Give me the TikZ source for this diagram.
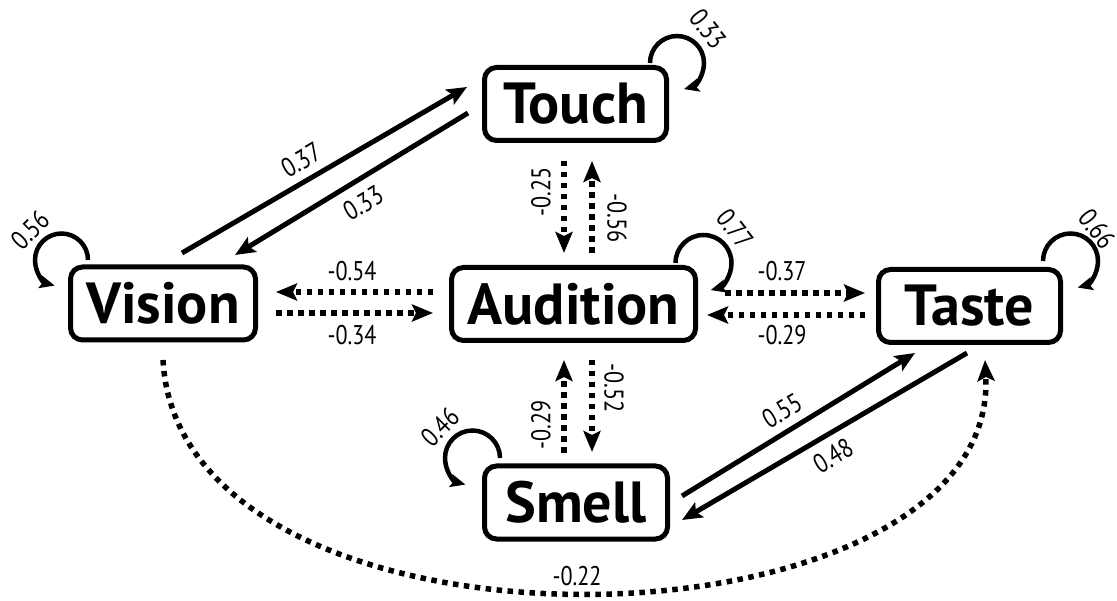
\documentclass[tikz,border=0pt]{standalone}
\usepackage{fontspec}
\setmainfont{PT Sans}
\newfontfamily\labfont[FakeStretch=0.82]{PT Sans}
\usetikzlibrary{arrows.meta}
\tikzset{
  sense/.style={draw, line width=5pt, rounded corners=12pt, minimum height=73pt,
    inner sep=0pt, font=\bfseries\fontsize{58}{60}\selectfont},
  solidlink/.style={line width=5pt, -{Stealth[length=20pt,width=17pt,inset=4pt]}},
  dotlink/.style={line width=5.5pt, dash pattern=on 5.5pt off 5.5pt,
    -{Stealth[length=21pt,width=17pt,inset=4pt]}},
  selfloop/.style={line width=4.5pt, -{Stealth[length=15pt,width=13pt,inset=3pt]}},
  weight/.style={font=\labfont\fontsize{27}{29}\selectfont, inner sep=0pt}
}
\begin{document}
\begin{tikzpicture}[x=1pt, y=1pt]
\useasboundingbox (0,0) rectangle (1117,-601);

% senses
\node[sense, minimum width=182pt] (touch)    at (575.5,-104)   {Touch};
\node[sense, minimum width=185pt] (vision)   at (163,-303.5)   {Vision};
\node[sense, minimum width=244pt] (audition) at (573.5,-304)   {Audition};
\node[sense, minimum width=182pt] (taste)    at (969.5,-306)   {Taste};
\node[sense, minimum width=183pt] (smell)    at (576,-502.5)   {Smell};

% vision <-> touch
\draw[solidlink] ([shift={(19,50.5)}]vision.center) -- ([shift={(-108.5,17)}]touch.center);
\draw[solidlink] ([shift={(-107.5,-9)}]touch.center) -- ([shift={(72,48.5)}]vision.center);
\node[weight, rotate=30] (w1) at (301,-160) {0.37};
\node[weight, rotate=30] (w2) at (363,-203) {0.33};

% vision <-> audition
\draw[dotlink] ([shift={(-140.5,12)}]audition.center) -- ([shift={(113,11.5)}]vision.center);
\draw[dotlink] ([shift={(113,-9.5)}]vision.center) -- ([shift={(-140.5,-9)}]audition.center);
\node[weight] (w3) at (352,-271) {-0.54};
\node[weight] (w4) at (352,-335) {-0.34};

% audition <-> taste
\draw[dotlink] ([shift={(151.5,11)}]audition.center) -- ([shift={(-104.5,13)}]taste.center);
\draw[dotlink] ([shift={(-104.5,-9)}]taste.center) -- ([shift={(133.5,-11)}]audition.center);
\node[weight] (w5) at (782,-271) {-0.37};
\node[weight] (w6) at (782,-335) {-0.29};

% touch <-> audition
\draw[dotlink] ([shift={(-11.5,-57)}]touch.center) -- ([shift={(-9.5,51)}]audition.center);
\draw[dotlink] ([shift={(18.5,51)}]audition.center) -- ([shift={(16.5,-57)}]touch.center);
\node[weight, rotate=90]  (w7) at (541,-192) {-0.25};
\node[weight, rotate=-90] (w8) at (617,-218) {-0.56};

% smell <-> audition
\draw[dotlink] ([shift={(-12,49.5)}]smell.center) -- ([shift={(-9.5,-56)}]audition.center);
\draw[dotlink] ([shift={(18.5,-56)}]audition.center) -- ([shift={(16,50.5)}]smell.center);
\node[weight, rotate=90]  (w9)  at (541,-425) {-0.29};
\node[weight, rotate=-90] (w10) at (614,-388) {-0.52};

% smell <-> taste
\draw[solidlink] ([shift={(106,6.5)}]smell.center) -- ([shift={(-54.5,-47)}]taste.center);
\draw[solidlink] ([shift={(-2.5,-47)}]taste.center) -- ([shift={(106,-17.5)}]smell.center);
\node[weight, rotate=31] (w11) at (782,-411) {0.55};
\node[weight, rotate=31] (w12) at (833,-456) {0.48};

% vision -> taste, long way round
\draw[dotlink] ([shift={(0,-56.5)}]vision.center) .. controls (180,-680) and (1000,-660) .. ([shift={(15.5,-54)}]taste.center);
\node[weight] (w13) at (577,-576) {-0.22};

% self loops
\draw[selfloop] ([shift={(74.5,41)}]touch.center) arc[start angle=180, end angle=-75, radius=27];
\node[weight, rotate=-52] (w14) at (708,-29) {0.33};
\draw[selfloop] ([shift={(102,41)}]audition.center) arc[start angle=180, end angle=-75, radius=28];
\node[weight, rotate=-52] (w15) at (735,-229) {0.77};
\draw[selfloop] ([shift={(73.5,45)}]taste.center) arc[start angle=180, end angle=-75, radius=27.5];
\node[weight, rotate=-52] (w16) at (1097,-229) {0.66};
\draw[selfloop] ([shift={(-75,43.5)}]vision.center) arc[start angle=0, end angle=255, radius=26.5];
\node[weight, rotate=45] (w17) at (30,-230) {0.56};
\draw[selfloop] ([shift={(-76,44.5)}]smell.center) arc[start angle=0, end angle=255, radius=27.5];
\node[weight, rotate=45] (w18) at (440,-427) {0.46};
\end{tikzpicture}
\end{document}
